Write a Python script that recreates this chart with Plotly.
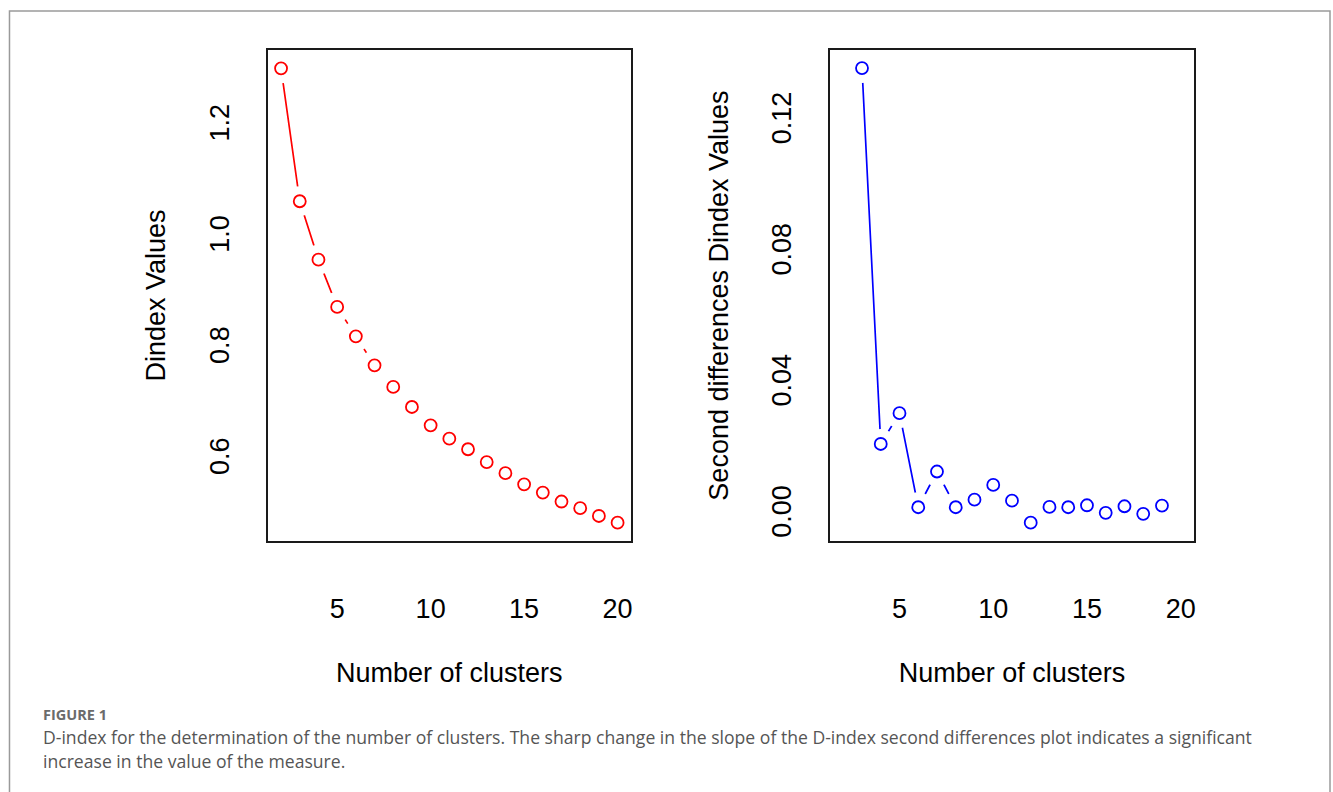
import plotly.graph_objects as go

# ---- data ----
clusters_left = list(range(2, 21))
dindex_values = [1.305, 1.066, 0.961, 0.876, 0.823, 0.771, 0.732, 0.696, 0.663,
                 0.639, 0.620, 0.597, 0.577, 0.557, 0.542, 0.526, 0.514, 0.500, 0.488]

clusters_right = list(range(3, 20))
second_diff_values = [0.1365, 0.0218, 0.0312, 0.0025, 0.0134, 0.0025, 0.0048, 0.0093,
                      0.0045, -0.0022, 0.0026, 0.0025, 0.0031, 0.0008, 0.0028, 0.0005, 0.0030]

x_ticks = [5, 10, 15, 20]
x_tick_labels = ["5", "10", "15", "20"]
left_y_ticks = [0.6, 0.8, 1.0, 1.2]
left_y_labels = ["0.6", "0.8", "1.0", "1.2"]
right_y_ticks = [0.0, 0.04, 0.08, 0.12]
right_y_labels = ["0.00", "0.04", "0.08", "0.12"]

caption_label = "FIGURE 1"
caption_lines = [
    "D-index for the determination of the number of clusters. The sharp change in the slope of the D-index second differences plot indicates a significant",
    "increase in the value of the measure.",
]

W, H = 1333, 792
FONT = "Liberation Sans, Arial, sans-serif"

fig = go.Figure()


def add_series(x, y, color, xa, ya):
    # R type="b": line segments with gaps around the points
    fig.add_trace(go.Scatter(x=x, y=y, mode="lines", line=dict(color=color, width=1.7),
                             xaxis=xa, yaxis=ya, showlegend=False, hoverinfo="skip"))
    fig.add_trace(go.Scatter(x=x, y=y, mode="markers",
                             marker=dict(symbol="circle", size=30, color="white", line=dict(width=0)),
                             xaxis=xa, yaxis=ya, showlegend=False, hoverinfo="skip"))
    fig.add_trace(go.Scatter(x=x, y=y, mode="markers",
                             marker=dict(symbol="circle-open", size=12, color=color,
                                         line=dict(width=1.8, color=color)),
                             xaxis=xa, yaxis=ya, showlegend=False))


add_series(clusters_left, dindex_values, "#ff0000", "x", "y")
add_series(clusters_right, second_diff_values, "#0000ff", "x2", "y2")


def px_x(a, b):
    return [a / W, b / W]


def px_y(top, bottom):
    return [1 - bottom / H, 1 - top / H]


axis_common = dict(showline=True, mirror=True, linecolor="#1a1a1a", linewidth=2,
                   showgrid=False, zeroline=False, ticks="",
                   tickfont=dict(family=FONT, size=27, color="black"))

xrange = [1.28, 20.72]
title_font = dict(family=FONT, size=27, color="black")

fig.update_layout(
    width=W, height=H, margin=dict(l=0, r=0, t=0, b=0),
    paper_bgcolor="white", plot_bgcolor="white", showlegend=False,
    xaxis=dict(domain=px_x(268, 632), range=xrange, tickvals=x_ticks, ticktext=x_tick_labels,
               ticklabelstandoff=43, anchor="y",
               title=dict(text="Number of clusters", font=title_font, standoff=40),
               **axis_common),
    yaxis=dict(domain=px_y(50, 541), range=[0.455, 1.338], tickvals=left_y_ticks,
               ticktext=left_y_labels, tickangle=-90, ticklabelstandoff=26, anchor="x",
               title=dict(text="Dindex Values", font=title_font, standoff=31),
               **axis_common),
    xaxis2=dict(domain=px_x(831, 1196), range=xrange, tickvals=x_ticks, ticktext=x_tick_labels,
                ticklabelstandoff=43, anchor="y2",
                title=dict(text="Number of clusters", font=title_font, standoff=40),
                **axis_common),
    yaxis2=dict(domain=px_y(50, 541), range=[-0.0078, 0.142], tickvals=right_y_ticks,
                ticktext=right_y_labels, tickangle=-90, ticklabelstandoff=26, anchor="x2",
                title=dict(text="Second differences Dindex Values", font=title_font, standoff=31),
                **axis_common),
)

# outer frame of the figure panel
fig.add_shape(type="rect", xref="paper", yref="paper",
              x0=9.5 / W, x1=1332 / W, y0=-0.02, y1=1 - 11 / H,
              line=dict(color="#9a9a9a", width=1.5), fillcolor="rgba(0,0,0,0)", layer="below")

# caption
fig.add_annotation(xref="paper", yref="paper", x=41 / W, y=1 - 714 / H, xanchor="left", yanchor="middle",
                   text="<b>" + caption_label + "</b>", showarrow=False,
                   font=dict(family="Open Sans", size=14.5, color="#6b6b6b"))
for i, line in enumerate(caption_lines):
    fig.add_annotation(xref="paper", yref="paper", x=41 / W, y=1 - (737 + 24 * i) / H,
                       xanchor="left", yanchor="middle", text=line, showarrow=False,
                       font=dict(family="Open Sans", size=17.6, color="#555555"))

fig.write_html("out.html")
